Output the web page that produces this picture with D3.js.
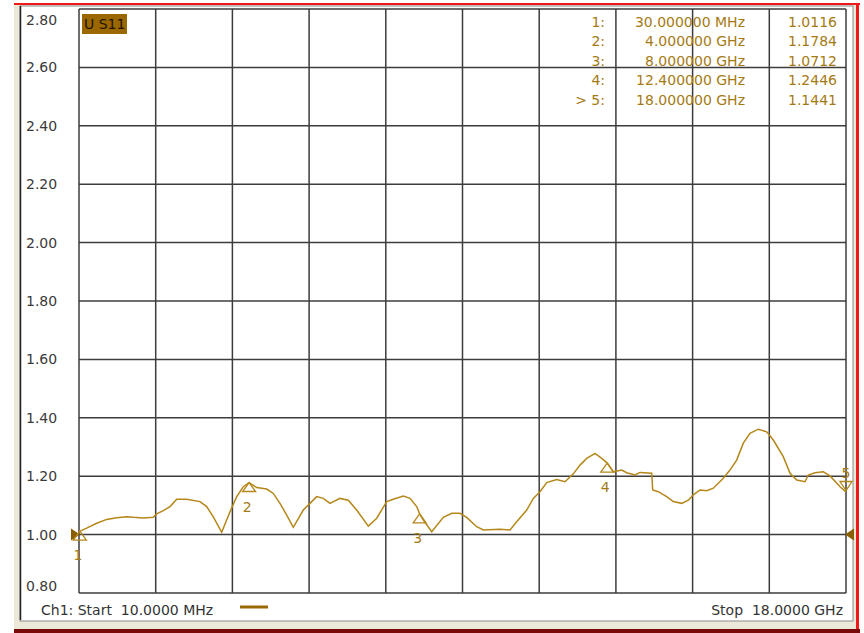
<!DOCTYPE html>
<html>
<head>
<meta charset="utf-8">
<script src="https://cdn.jsdelivr.net/npm/d3@7"></script>
<style>
  html, body { margin: 0; padding: 0; background: #fff; }
  text { font-family: "DejaVu Sans", sans-serif; white-space: pre; }
</style>
</head>
<body>
<div id="chart"></div>
<script>
// trace S11 (SWR)
const freqGHz = [0.01, 0.19, 0.425, 0.66, 0.894, 1.129, 1.284, 1.518, 1.753, 1.832,
  1.987, 2.144, 2.302, 2.536, 2.848, 3.005, 3.16, 3.357, 3.552, 3.709,
  3.864, 4.0, 4.178, 4.412, 4.567, 4.724, 4.882, 5.036, 5.271, 5.428,
  5.585, 5.74, 5.897, 6.132, 6.326, 6.523, 6.796, 6.993, 7.227, 7.382,
  7.617, 7.774, 7.931, 8.0, 8.086, 8.283, 8.555, 8.752, 8.946, 9.103,
  9.338, 9.493, 9.885, 10.119, 10.276, 10.511, 10.666, 10.823, 10.98, 11.214,
  11.409, 11.604, 11.761, 11.918, 12.113, 12.27, 12.4, 12.542, 12.739, 12.856,
  13.051, 13.168, 13.443, 13.466, 13.597, 13.794, 13.949, 14.146, 14.301, 14.418,
  14.576, 14.733, 14.888, 15.122, 15.279, 15.436, 15.591, 15.748, 15.943, 16.14,
  16.295, 16.529, 16.687, 16.844, 17.038, 17.116, 17.273, 17.468, 17.625, 17.86, 18.0];
const swr = [1.010, 1.022, 1.039, 1.052, 1.058, 1.061, 1.059, 1.057, 1.059, 1.071,
  1.082, 1.096, 1.121, 1.121, 1.113, 1.096, 1.061, 1.008, 1.078, 1.130,
  1.164, 1.178, 1.161, 1.156, 1.141, 1.107, 1.067, 1.025, 1.084, 1.107,
  1.130, 1.124, 1.107, 1.124, 1.118, 1.084, 1.029, 1.056, 1.113, 1.121,
  1.132, 1.124, 1.096, 1.071, 1.050, 1.010, 1.059, 1.073, 1.073, 1.059,
  1.027, 1.016, 1.018, 1.016, 1.044, 1.084, 1.124, 1.147, 1.178, 1.189,
  1.181, 1.208, 1.238, 1.261, 1.278, 1.261, 1.245, 1.215, 1.221, 1.212,
  1.204, 1.213, 1.210, 1.153, 1.147, 1.130, 1.113, 1.107, 1.118, 1.136,
  1.153, 1.150, 1.159, 1.193, 1.221, 1.255, 1.313, 1.347, 1.361, 1.352,
  1.324, 1.267, 1.210, 1.187, 1.181, 1.204, 1.212, 1.215, 1.201, 1.164, 1.146];

const yTicks = [0.8, 1.0, 1.2, 1.4, 1.6, 1.8, 2.0, 2.2, 2.4, 2.6, 2.8];
const xDivisions = 10;

const markerIds = ["1", "2", "3", "4", "5"];
const markerRowLabels = ["1:", "2:", "3:", "4:", "> 5:"];
const markerFreq = [0.03, 4.0, 8.0, 12.4, 18.0];
const markerFreqText = ["30.000000 MHz", "4.000000 GHz", "8.000000 GHz", "12.400000 GHz", "18.000000 GHz"];
const markerValue = [1.0116, 1.1784, 1.0712, 1.2446, 1.1441];
const activeMarker = 4;

const traceName = "U S11";
const startText = "Ch1: Start  10.0000 MHz";
const stopText = "Stop  18.0000 GHz";
const refLevel = 1.0;

const W = 864, H = 633;
const traceColor = "#b5871a";
const textGold = "#a57a14";
const gridColor = "#3c3c3c";

const svg = d3.select("#chart").append("svg")
    .attr("width", W)
    .attr("height", H);

// window chrome
svg.append("rect").attr("x", 0).attr("y", 0).attr("width", W).attr("height", H).attr("fill", "#fff");
svg.append("rect").attr("x", 14).attr("y", 5).attr("width", 843).attr("height", 625).attr("fill", "#ece9d8");
svg.append("rect").attr("x", 20).attr("y", 6).attr("width", 833).attr("height", 615)
    .attr("fill", "#fff").attr("stroke", "#8a8a8a").attr("stroke-width", 1);
svg.append("line").attr("x1", 20.5).attr("y1", 6).attr("x2", 20.5).attr("y2", 620)
    .attr("stroke", "#222").attr("stroke-width", 1.5);
svg.append("rect").attr("x", 14).attr("y", 3).attr("width", 846).attr("height", 2).attr("fill", "#f01818");
svg.append("rect").attr("x", 856).attr("y", 3).attr("width", 3).attr("height", 630).attr("fill", "#f01818");
svg.append("rect").attr("x", 14).attr("y", 629).attr("width", 846).attr("height", 4).attr("fill", "#7a0a0a");

// scales
const x = d3.scaleLinear().domain([0.01, 18.0]).range([79, 846]);
const y = d3.scaleLinear().domain([0.8, 2.8]).range([593, 9]);

// grid
const xGrid = d3.range(xDivisions + 1).map(i => x.invert(79 + i * (846 - 79) / xDivisions));
svg.append("g").selectAll("line").data(xGrid).join("line")
    .attr("x1", d => x(d)).attr("x2", d => x(d))
    .attr("y1", y(2.8)).attr("y2", y(0.8))
    .attr("stroke", gridColor).attr("stroke-width", 1.5);
svg.append("g").selectAll("line").data(yTicks).join("line")
    .attr("x1", x(0.01)).attr("x2", x(18))
    .attr("y1", d => y(d)).attr("y2", d => y(d))
    .attr("stroke", gridColor).attr("stroke-width", 1.5);

// y tick labels (clamped inside the frame like the analyzer does)
svg.append("g").selectAll("text").data(yTicks).join("text")
    .attr("x", 26)
    .attr("y", d => Math.max(20, Math.min(586, y(d))) + 5)
    .attr("font-size", 14)
    .attr("fill", "#3a3a3a")
    .text(d => d3.format(".2f")(d));

// trace label box
svg.append("rect").attr("x", 82).attr("y", 14).attr("width", 45).attr("height", 20).attr("fill", "#9b6700");
svg.append("text").attr("x", 84).attr("y", 29).attr("font-size", 14).attr("fill", "#1e1400").text(traceName);

// marker table
const rowY = i => 26.5 + i * 19.5;
const table = svg.append("g").attr("font-size", 14).attr("fill", textGold).attr("text-anchor", "end");
table.selectAll(".lab").data(markerRowLabels).join("text")
    .attr("x", 605).attr("y", (d, i) => rowY(i)).text(d => d);
table.selectAll(".frq").data(markerFreqText).join("text")
    .attr("x", 745).attr("y", (d, i) => rowY(i)).text(d => d);
table.selectAll(".val").data(markerValue).join("text")
    .attr("x", 837).attr("y", (d, i) => rowY(i)).text(d => d3.format(".4f")(d));

// trace
const pts = freqGHz.map((f, i) => [f, swr[i]]);
const line = d3.line().x(d => x(d[0])).y(d => y(d[1]));
svg.append("path").datum(pts)
    .attr("d", line)
    .attr("fill", "none")
    .attr("stroke", traceColor)
    .attr("stroke-width", 1.5);

// reference level arrows
const ry = y(refLevel);
svg.append("path")
    .attr("d", `M${x(0.01) - 8},${ry - 6} L${x(0.01) + 1},${ry} L${x(0.01) - 8},${ry + 6} Z`)
    .attr("fill", "#8a5f00");
svg.append("path")
    .attr("d", `M${x(18) + 8},${ry - 6} L${x(18) - 1},${ry} L${x(18) + 8},${ry + 6} Z`)
    .attr("fill", "#8a5f00");

// markers
markerIds.forEach((id, i) => {
    const mx = x(markerFreq[i]), my = y(markerValue[i]);
    if (i === activeMarker) {
        svg.append("path")
            .attr("d", `M${mx - 6},${my - 11} L${mx + 6},${my - 11} L${mx},${my - 2} Z`)
            .attr("fill", "none").attr("stroke", traceColor).attr("stroke-width", 1.3);
        svg.append("text").attr("x", mx).attr("y", my - 15)
            .attr("text-anchor", "middle").attr("font-size", 14).attr("fill", textGold).text(id);
    } else {
        svg.append("path")
            .attr("d", `M${mx},${my} L${mx + 6.5},${my + 9} L${mx - 6.5},${my + 9} Z`)
            .attr("fill", "none").attr("stroke", traceColor).attr("stroke-width", 1.3);
        svg.append("text").attr("x", mx - 2).attr("y", my + 29)
            .attr("text-anchor", "middle").attr("font-size", 14).attr("fill", textGold).text(id);
    }
});

// footer
svg.append("text").attr("x", 41).attr("y", 615).attr("font-size", 14).attr("fill", "#333").text(startText);
svg.append("line").attr("x1", 240).attr("x2", 268).attr("y1", 607).attr("y2", 607)
    .attr("stroke", "#9b6700").attr("stroke-width", 3);
svg.append("text").attr("x", 843).attr("y", 615).attr("text-anchor", "end")
    .attr("font-size", 14).attr("fill", "#333").text(stopText);
</script>
</body>
</html>
